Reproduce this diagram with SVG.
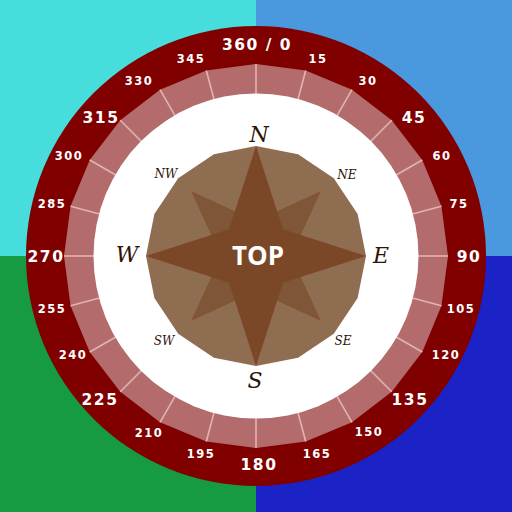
<svg xmlns="http://www.w3.org/2000/svg" xmlns:xlink="http://www.w3.org/1999/xlink" width="512" height="512" viewBox="0 0 512 512">
<style>
.deg{font-family:"DejaVu Sans",sans-serif;font-weight:bold;fill:#fff;text-anchor:middle;letter-spacing:1.5px}
.mn{font-size:11.5px}
.mj{font-size:15.5px}
.cd{font-family:"DejaVu Serif","Liberation Serif",serif;font-style:italic;fill:#2e1408;text-anchor:middle}
.big{font-size:22px}
.sm{font-size:12px}
.tick{stroke:#e2b3b3;stroke-width:1.6}
</style>
<defs>
<line id="t" class="tick" x1="256" y1="64" x2="256" y2="94"/>
</defs>
<g id="background">
<rect x="0" y="0" width="256" height="256" fill="#48dddd"/>
<rect x="256" y="0" width="256" height="256" fill="#4a99df"/>
<rect x="0" y="256" width="256" height="256" fill="#169b43"/>
<rect x="256" y="256" width="256" height="256" fill="#1b23c6"/>
</g>
<g id="dial">
<circle cx="256" cy="256" r="230" fill="#800000"/>
<polygon fill="#b46b6b" points="256,64 305.69,70.54 352,89.72 391.77,120.24 422.28,160 441.46,206.31 448,256 441.46,305.69 422.28,352 391.77,391.77 352,422.28 305.69,441.46 256,448 206.31,441.46 160,422.28 120.24,391.77 89.72,352 70.54,305.69 64,256 70.54,206.31 89.72,160 120.24,120.24 160,89.72 206.31,70.54"/>
<g id="ticks">
<use xlink:href="#t"/>
<use xlink:href="#t" transform="rotate(15 256 256)"/>
<use xlink:href="#t" transform="rotate(30 256 256)"/>
<use xlink:href="#t" transform="rotate(45 256 256)"/>
<use xlink:href="#t" transform="rotate(60 256 256)"/>
<use xlink:href="#t" transform="rotate(75 256 256)"/>
<use xlink:href="#t" transform="rotate(90 256 256)"/>
<use xlink:href="#t" transform="rotate(105 256 256)"/>
<use xlink:href="#t" transform="rotate(120 256 256)"/>
<use xlink:href="#t" transform="rotate(135 256 256)"/>
<use xlink:href="#t" transform="rotate(150 256 256)"/>
<use xlink:href="#t" transform="rotate(165 256 256)"/>
<use xlink:href="#t" transform="rotate(180 256 256)"/>
<use xlink:href="#t" transform="rotate(195 256 256)"/>
<use xlink:href="#t" transform="rotate(210 256 256)"/>
<use xlink:href="#t" transform="rotate(225 256 256)"/>
<use xlink:href="#t" transform="rotate(240 256 256)"/>
<use xlink:href="#t" transform="rotate(255 256 256)"/>
<use xlink:href="#t" transform="rotate(270 256 256)"/>
<use xlink:href="#t" transform="rotate(285 256 256)"/>
<use xlink:href="#t" transform="rotate(300 256 256)"/>
<use xlink:href="#t" transform="rotate(315 256 256)"/>
<use xlink:href="#t" transform="rotate(330 256 256)"/>
<use xlink:href="#t" transform="rotate(345 256 256)"/>
</g>
<circle cx="256" cy="256" r="162.5" fill="#fff"/>
</g>
<g id="degrees">
<text class="deg mj" x="257" y="50">360 / 0</text>
<text class="deg mn" x="318" y="63">15</text>
<text class="deg mn" x="368" y="85">30</text>
<text class="deg mj" x="414" y="123">45</text>
<text class="deg mn" x="442" y="160">60</text>
<text class="deg mn" x="459" y="208">75</text>
<text class="deg mj" x="469" y="262">90</text>
<text class="deg mn" x="461" y="313">105</text>
<text class="deg mn" x="446" y="359">120</text>
<text class="deg mj" x="410" y="405">135</text>
<text class="deg mn" x="369" y="436">150</text>
<text class="deg mn" x="317" y="458">165</text>
<text class="deg mj" x="259" y="470">180</text>
<text class="deg mn" x="201" y="458">195</text>
<text class="deg mn" x="149" y="437">210</text>
<text class="deg mj" x="100" y="405">225</text>
<text class="deg mn" x="73" y="359">240</text>
<text class="deg mn" x="52" y="313">255</text>
<text class="deg mj" x="46" y="262">270</text>
<text class="deg mn" x="52" y="208">285</text>
<text class="deg mn" x="69" y="160">300</text>
<text class="deg mj" x="101" y="123">315</text>
<text class="deg mn" x="139" y="85">330</text>
<text class="deg mn" x="191" y="63">345</text>
</g>
<g id="rose">
<polygon fill="#8f6d51" points="256,146 298.10,154.37 333.78,178.22 357.63,213.90 366,256 357.63,298.10 333.78,333.78 298.10,357.63 256,366 213.90,357.63 178.22,333.78 154.37,298.10 146,256 154.37,213.90 178.22,178.22 213.90,154.37"/>
<polygon fill="#7f5638" points="190.95,190.95 256,221 321.05,190.95 291,256 321.05,321.05 256,291 190.95,321.05 221,256"/>
<polygon fill="#7a4826" points="256,146 282.87,229.13 366,256 282.87,282.87 256,366 229.13,282.87 146,256 229.13,229.13"/>
<text x="258" y="265" font-family="'Open Sans',sans-serif" font-weight="bold" font-size="26" fill="#fff" text-anchor="middle">TOP</text>
</g>
<g id="cardinals">
<text class="cd big" x="259" y="142">N</text>
<text class="cd big" x="381" y="263">E</text>
<text class="cd big" x="255" y="388">S</text>
<text class="cd big" x="127" y="262">W</text>
<text class="cd sm" x="166" y="178">NW</text>
<text class="cd sm" x="347" y="179">NE</text>
<text class="cd sm" x="343" y="345">SE</text>
<text class="cd sm" x="164" y="345">SW</text>
</g>
</svg>
